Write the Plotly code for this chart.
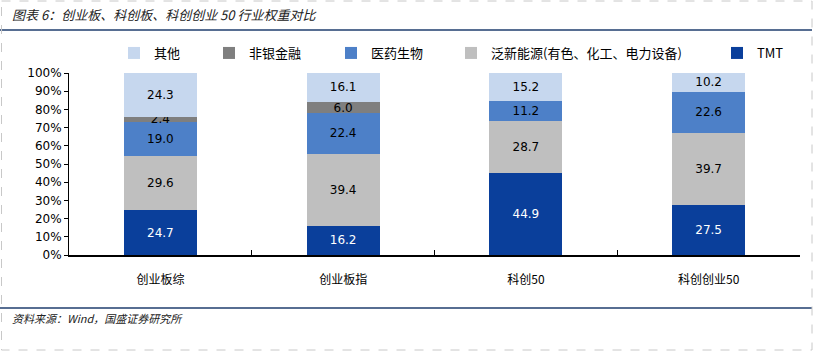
import plotly.graph_objects as go

categories = ["创业板综", "创业板指", "科创50", "科创创业50"]
tmt = [24.7, 16.2, 44.9, 27.5]
new_energy = [29.6, 39.4, 28.7, 39.7]
pharma = [19.0, 22.4, 11.2, 22.6]
nonbank = [2.4, 6.0, None, None]
others = [24.3, 16.1, 15.2, 10.2]
yticks = [0, 10, 20, 30, 40, 50, 60, 70, 80, 90, 100]

series = [
    ("TMT", tmt, "#0A3F9B", "white"),
    ("泛新能源(有色、化工、电力设备)", new_energy, "#BFBFBF", "black"),
    ("医药生物", pharma, "#4D80C8", "black"),
    ("非银金融", nonbank, "#7F7F7F", "black"),
    ("其他", others, "#C6D7EE", "black"),
]

W, H = 817, 352
ML, MR, MT, MB = 69, 17, 73, 97
pw = W - ML - MR
ph = H - MT - MB

def px_x(x):
    return (x - ML) / pw

def px_y(y):
    return 1 + (MT - y) / ph

legend_px = {"其他": 114, "非银金融": 209, "医药生物": 331, "泛新能源(有色、化工、电力设备)": 451, "TMT": 717}
legend_names = {"其他": "legend", "非银金融": "legend2", "医药生物": "legend3",
                "泛新能源(有色、化工、电力设备)": "legend4", "TMT": "legend5"}

fig = go.Figure()
for name, vals, color, tcolor in series:
    fig.add_trace(go.Bar(
        x=categories, y=vals, name=name,
        marker=dict(color=color, line=dict(width=0)),
        text=["" if v is None else f"{v:.1f}" for v in vals],
        textposition="inside", insidetextanchor="middle",
        textfont=dict(color=tcolor, size=12, family="DejaVu Sans"),
        legend=legend_names[name], showlegend=True,
        hoverinfo="skip",
    ))

layout_legends = {}
for name, lk in legend_names.items():
    layout_legends[lk] = dict(
        x=px_x(legend_px[name]), y=px_y(53), xanchor="left", yanchor="middle",
        orientation="h", bgcolor="rgba(0,0,0,0)",
        font=dict(size=13, family="Noto Sans CJK SC", color="#000000"),
        itemwidth=30, visible=True,
    )

fig.update_layout(
    width=W, height=H,
    margin=dict(l=ML, r=MR, t=MT, b=MB),
    paper_bgcolor="white", plot_bgcolor="white",
    barmode="stack", bargap=0.6,
    showlegend=True,
    uniformtext=dict(minsize=12, mode="show"),
    **layout_legends,
)

fig.update_yaxes(
    range=[0, 100], tickvals=yticks, ticktext=[f"{v}%" for v in yticks],
    showgrid=False, zeroline=False,
    showline=True, linecolor="black", linewidth=1,
    ticks="outside", ticklen=4, tickcolor="black",
    tickfont=dict(size=12, family="DejaVu Sans", color="#000000"),
)
fig.update_xaxes(
    showgrid=False, showline=True, linecolor="black", linewidth=1.5,
    ticks="inside", tickson="boundaries", ticklen=5, tickcolor="black",
    tickfont=dict(size=12, family="Noto Sans CJK SC", color="#000000"),
    ticklabelstandoff=13,
)

# title, rules, source, border
fig.add_annotation(xref="paper", yref="paper", x=px_x(10), y=px_y(14),
                   xanchor="left", yanchor="middle", showarrow=False,
                   text="<i>图表 6：创业板、科创板、科创创业 50 行业权重对比</i>",
                   font=dict(size=13, family="Noto Sans CJK SC", color="#222222"))
fig.add_annotation(xref="paper", yref="paper", x=px_x(10), y=px_y(318),
                   xanchor="left", yanchor="middle", showarrow=False,
                   text="<i>资料来源：Wind，国盛证券研究所</i>",
                   font=dict(size=11, family="Noto Sans CJK SC", color="#222222"))
fig.add_shape(type="line", xref="paper", yref="paper",
              x0=px_x(0), x1=px_x(812), y0=px_y(30), y1=px_y(30),
              line=dict(color="#1F3E6E", width=1.5))
fig.add_shape(type="line", xref="paper", yref="paper",
              x0=px_x(0), x1=px_x(812), y0=px_y(308), y1=px_y(308),
              line=dict(color="#1F3E6E", width=1.5))
fig.add_shape(type="rect", xref="paper", yref="paper",
              x0=px_x(1.5), x1=px_x(812), y0=px_y(1), y1=px_y(350),
              line=dict(color="#C8C8C8", width=1, dash="dash"))

fig.write_html("out.html")
